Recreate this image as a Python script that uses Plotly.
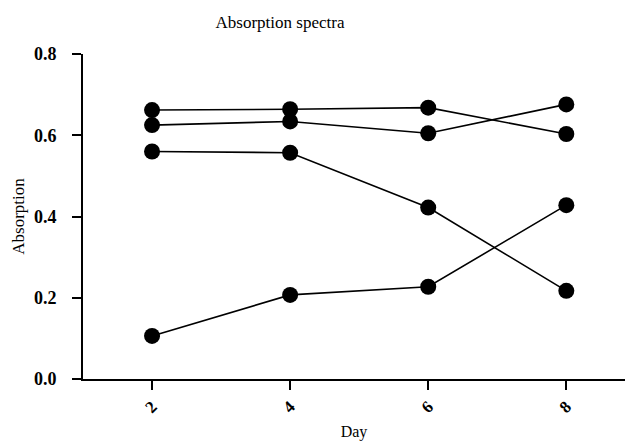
import plotly.graph_objects as go

# Absorption readings per sampling day
days = [2, 4, 6, 8]
series_a = [0.662, 0.664, 0.668, 0.603]
series_b = [0.625, 0.634, 0.605, 0.676]
series_c = [0.560, 0.557, 0.422, 0.217]
series_d = [0.106, 0.207, 0.227, 0.428]
y_ticks = [0.0, 0.2, 0.4, 0.6, 0.8]

serif = "Liberation Serif, Times New Roman, serif"

fig = go.Figure()
for vals in (series_a, series_b, series_c, series_d):
    fig.add_trace(go.Scatter(
        x=days, y=vals, mode="lines+markers",
        line=dict(color="black", width=1.6),
        marker=dict(color="black", size=16),
        showlegend=False, cliponaxis=False,
    ))

fig.update_layout(
    width=625, height=441,
    margin=dict(l=83, r=0, t=54, b=62),
    paper_bgcolor="white", plot_bgcolor="white",
    font=dict(family=serif, color="black"),
    title=dict(text="Absorption spectra", font=dict(family=serif, size=17),
               xref="container", x=280 / 625, xanchor="center",
               yref="container", y=1 - 22 / 441, yanchor="middle"),
    xaxis=dict(
        range=[1.0, 8.85], tickvals=days, ticktext=[str(d) for d in days],
        tickangle=-45, ticks="outside", ticklen=9, tickwidth=2,
        tickcolor="black", showline=True, linecolor="black", linewidth=2,
        showgrid=False, zeroline=False,
        tickfont=dict(family=serif, size=17, weight="bold"),
        title=dict(text="Day", font=dict(family=serif, size=16), standoff=12),
    ),
    yaxis=dict(
        range=[0, 0.8], tickvals=y_ticks, tickformat=".1f",
        ticks="outside", ticklen=9, tickwidth=2, tickcolor="black",
        ticklabelstandoff=12,
        showline=True, linecolor="black", linewidth=2,
        showgrid=False, zeroline=False,
        tickfont=dict(family=serif, size=18, weight="bold"),
        title=dict(text="Absorption", font=dict(family=serif, size=17), standoff=5),
    ),
)

fig.write_html("out.html")
